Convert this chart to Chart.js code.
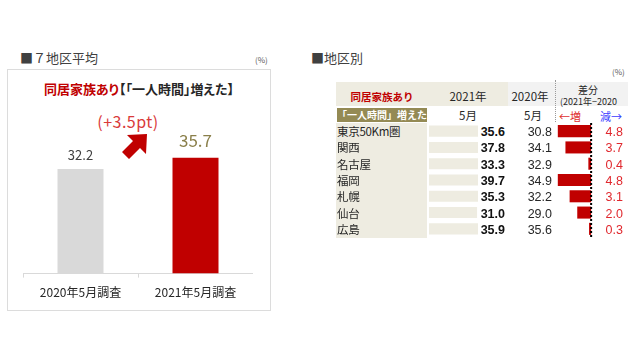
<!DOCTYPE html>
<html><head><meta charset="utf-8">
<script src="https://cdn.jsdelivr.net/npm/chart.js@4.4.0/dist/chart.umd.min.js"></script>
<style>
html,body{margin:0;padding:0;background:#fff;width:640px;height:360px;overflow:hidden;}
body{position:relative;font-family:"Noto Sans CJK JP",sans-serif;color:#262626;}
.t{position:absolute;white-space:nowrap;transform:translateY(-50%);line-height:1;}
.c{transform:translate(-50%,-50%);}
.r{transform:translate(-100%,-50%);}
.bx{position:absolute;}
canvas{position:absolute;}
.num{font-family:"Liberation Sans","Noto Sans CJK JP",sans-serif;font-size:12.5px;}
.palt{font-feature-settings:"palt";}
</style></head><body>

<!-- left panel -->
<div class="t" style="left:20px;top:57px;font-size:13px;color:#404040;">■７地区平均</div>
<div class="t" style="left:255px;top:60px;font-size:8px;color:#595959;">(%)</div>
<div class="bx" style="left:7px;top:69px;width:262px;height:240px;border:1px solid #dcdcdc;"></div>
<div class="t c palt" style="left:139px;top:88px;font-size:13px;font-weight:bold;"><span style="color:#c00000">同居家族あり</span><span style="color:#262626">【「一人時間」増えた】</span></div>
<div class="t c" style="left:128px;top:121px;font-size:16px;letter-spacing:0.5px;color:#d93a3a;">(+3.5pt)</div>
<svg style="position:absolute;left:0;top:0" width="640" height="360">
  <polygon points="147,134 127,135 133,141 122,152 129,159 140,148 146,154" fill="#c00000"/>
</svg>
<canvas id="avg" width="230" height="208" style="left:23px;top:100px;"></canvas>

<!-- right panel -->
<div class="t" style="left:311px;top:57px;font-size:13px;color:#404040;">■地区別</div>
<div class="t" style="left:612px;top:72px;font-size:8px;color:#595959;">(%)</div>
<div class="bx" style="left:336px;top:82px;width:172px;height:24px;background:#eeece1;"></div>
<div class="bx" style="left:508px;top:82px;width:120px;height:24px;background:#f2f2f2;"></div>
<div class="bx" style="left:555px;top:80px;width:0;height:42px;border-left:1px dotted #9a9a9a;"></div>
<div class="bx" style="left:337px;top:108px;width:90px;height:14px;background:#948a54;"></div>
<div class="bx" style="left:336px;top:123px;width:91px;height:115px;background:#eeece1;"></div>

<div class="t c" style="left:382px;top:97px;font-size:10.5px;font-weight:bold;color:#c00000;">同居家族あり</div>
<div class="t c" style="left:382px;top:115px;font-size:10px;font-weight:bold;color:#fff;">「一人時間」増えた</div>
<div class="t c" style="left:468px;top:97px;font-size:11.5px;">2021年</div>
<div class="t c" style="left:468px;top:116px;font-size:11.5px;">5月</div>
<div class="t c" style="left:530px;top:97px;font-size:11.5px;">2020年</div>
<div class="t c" style="left:533px;top:116px;font-size:11.5px;">5月</div>
<div class="t c" style="left:588px;top:90px;font-size:10px;">差分</div>
<div class="t" style="left:560px;top:101px;font-size:9px;">(2021年−2020</div>
<div class="t" style="left:559px;top:116px;font-size:11px;color:#e03030;">←増</div>
<div class="t" style="left:600px;top:116px;font-size:11px;color:#3c3cff;">減→</div>

<canvas id="bar21" width="49" height="114" style="left:429px;top:123px;"></canvas>
<canvas id="diff" width="50" height="118" style="left:546px;top:121px;"></canvas>
<div id="rows"></div>

<script>
// ---- data ----
const avgCategories = ["2020年5月調査", "2021年5月調査"];
const avgValues = [32.2, 35.7];
const regions = ["東京50Km圏", "関西", "名古屋", "福岡", "札幌", "仙台", "広島"];
const values2021 = [35.6, 37.8, 33.3, 39.7, 35.3, 31.0, 35.9];
const values2020 = [30.8, 34.1, 32.9, 34.9, 32.2, 29.0, 35.6];
const diffValues = [4.8, 3.7, 0.4, 4.8, 3.1, 2.0, 0.3];

const CJK = '"Noto Sans CJK JP", sans-serif';
const noUI = {legend: {display: false}, tooltip: {enabled: false}};

// value labels for the average chart
const avgLabelStyles = [
  {size: 13, color: '#404040', gap: 14},
  {size: 17, color: '#8a7f4a', gap: 17}
];
const avgLabels = {
  id: 'avgLabels',
  afterDatasetsDraw(chart) {
    const ctx = chart.ctx;
    chart.getDatasetMeta(0).data.forEach((bar, i) => {
      const s = avgLabelStyles[i];
      ctx.save();
      ctx.font = s.size + 'px ' + CJK;
      ctx.fillStyle = s.color;
      ctx.textAlign = 'center';
      ctx.textBaseline = 'middle';
      ctx.fillText(avgValues[i].toFixed(1), bar.x, bar.y - s.gap);
      ctx.restore();
    });
  }
};

new Chart(document.getElementById('avg'), {
  type: 'bar',
  data: {
    labels: avgCategories,
    datasets: [{
      data: avgValues,
      backgroundColor: ['#d9d9d9', '#c00000'],
      borderWidth: 0,
      barPercentage: 0.4,
      categoryPercentage: 1
    }]
  },
  options: {
    responsive: false, animation: false,
    layout: {padding: 0},
    plugins: noUI,
    scales: {
      x: {
        grid: {drawOnChartArea: false, drawTicks: true, tickLength: 4, color: '#d9d9d9', offset: true},
        border: {color: '#d9d9d9'},
        ticks: {font: {size: 12, family: CJK}, color: '#262626', padding: 8}
      },
      y: {display: false, min: 0, max: 53.5}
    }
  },
  plugins: [avgLabels]
});

// 2021 background bars (clipped to the cell)
new Chart(document.getElementById('bar21'), {
  type: 'bar',
  data: {labels: regions, datasets: [{data: values2021, backgroundColor: '#eeece1', borderWidth: 0, barPercentage: 0.68, categoryPercentage: 1}]},
  options: {
    indexAxis: 'y', responsive: false, animation: false,
    layout: {padding: 0}, plugins: noUI,
    scales: {x: {display: false, min: 0, max: 31.6}, y: {display: false}}
  }
});

// difference bars with dashed zero line
const zeroLine = {
  id: 'zeroLine',
  afterDatasetsDraw(chart) {
    const ctx = chart.ctx, x = chart.scales.x.getPixelForValue(0);
    ctx.save();
    ctx.strokeStyle = '#000';
    ctx.lineWidth = 2;
    ctx.setLineDash([2, 2]);
    ctx.beginPath();
    ctx.moveTo(x, chart.chartArea.top);
    ctx.lineTo(x, chart.chartArea.bottom + 1);
    ctx.stroke();
    ctx.restore();
  }
};
new Chart(document.getElementById('diff'), {
  type: 'bar',
  data: {labels: regions, datasets: [{data: diffValues, backgroundColor: '#c00000', borderWidth: 0, barPercentage: 0.74, categoryPercentage: 1}]},
  options: {
    indexAxis: 'y', responsive: false, animation: false,
    layout: {padding: {top: 2, bottom: 2, left: 0, right: 0}}, plugins: noUI,
    scales: {x: {display: false, min: -0.7, max: 6.5, reverse: true}, y: {display: false}}
  },
  plugins: [zeroLine]
});

// table text rows
const rowsEl = document.getElementById('rows');
const rowTop = 123, rowH = 114 / regions.length;
function addText(cls, x, y, txt, style) {
  const d = document.createElement('div');
  d.className = 't ' + cls;
  d.style.left = x + 'px';
  d.style.top = y + 'px';
  d.style.cssText += style;
  d.textContent = txt;
  rowsEl.appendChild(d);
}
regions.forEach((name, i) => {
  const y = rowTop + (i + 0.5) * rowH + 1;
  addText('', 337, y, name, 'font-size:11.5px;letter-spacing:-0.3px;color:#262626;');
  addText('r num', 505, y, values2021[i].toFixed(1), 'font-weight:bold;color:#111;');
  addText('r num', 552, y, values2020[i].toFixed(1), 'color:#262626;');
  addText('r num', 623, y, diffValues[i].toFixed(1), 'color:#e0282e;');
});
</script>
</body></html>
